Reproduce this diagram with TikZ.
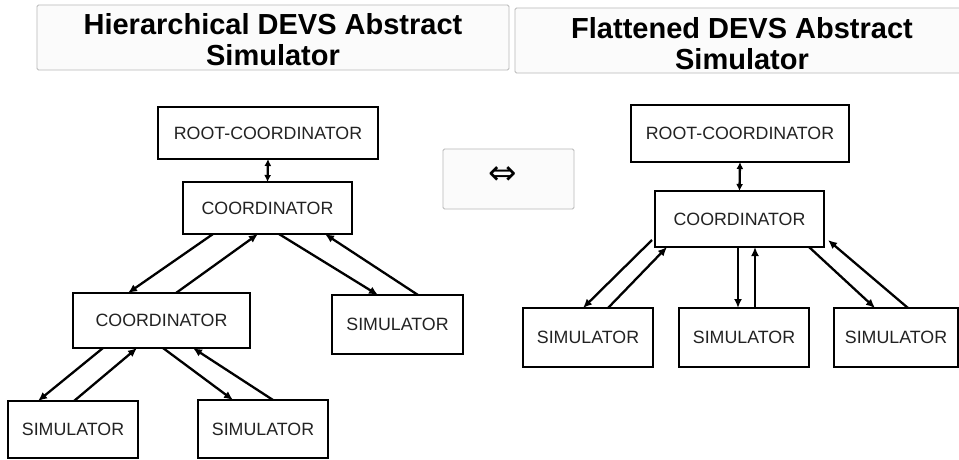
\documentclass[tikz,border=0pt]{standalone}
\usepackage{fontspec}
\setmainfont{Liberation Sans}
\newfontfamily\symfont{DejaVu Sans}
\usetikzlibrary{arrows.meta}
\definecolor{txt}{HTML}{222222}
\begin{document}
\begin{tikzpicture}[x=1pt,y=-1pt,
  box/.style={draw=black, line width=2.8pt, fill=white, text=txt,
    font=\fontsize{17.8}{20}\selectfont, inner sep=0pt, outer sep=0pt},
  titlebox/.style={draw=black!28, line width=0.9pt, fill=black!1.5, rounded corners=1.5pt},
  titletext/.style={font=\bfseries\fontsize{29}{31}\selectfont, align=center, text=black, inner sep=0pt},
  conn/.style={line width=2.3pt, -{Latex[length=9pt,width=8pt]}},
  dconn/.style={line width=2.3pt, {Latex[length=7pt,width=7pt]}-{Latex[length=7pt,width=7pt]}}
]
\useasboundingbox (0,0) rectangle (959,459);
\fill[white] (0,0) rectangle (959,459);

% title boxes
\node[titlebox, minimum width=472pt, minimum height=65pt, inner sep=0pt] (tl) at (273,37.5) {};
\node[titletext] (tlt) at (273,40) {Hierarchical DEVS Abstract\\Simulator};
\node[titlebox, minimum width=460pt, minimum height=65pt, inner sep=0pt] (tr) at (745,40.5) {};
\node[titletext] (trt) at (742,43.5) {Flattened DEVS Abstract\\Simulator};

% middle equivalence box
\node[titlebox, minimum width=131pt, minimum height=60pt, inner sep=0pt] (mid) at (508.5,179) {};
\node[inner sep=0pt, font=\symfont\fontsize{34}{34}\selectfont] (eq) at (503,176) {⇔};

% left hierarchy
\node[box, minimum width=220pt, minimum height=52pt] (root1) at (268,133) {ROOT-COORDINATOR};
\node[box, minimum width=169pt, minimum height=52pt] (coord1) at (267.5,208) {COORDINATOR};
\node[box, minimum width=177pt, minimum height=55pt] (coord2) at (161.5,320.5) {COORDINATOR};
\node[box, minimum width=131pt, minimum height=59pt] (simR) at (397.5,324.5) {SIMULATOR};
\node[box, minimum width=130pt, minimum height=57pt] (simBL) at (73,429.5) {SIMULATOR};
\node[box, minimum width=130pt, minimum height=58pt] (simBM) at (263,429) {SIMULATOR};

\draw[dconn] (root1.south) -- (coord1.north);
\draw[conn] ([xshift=-54.5pt]coord1.south) -- ([xshift=-33.5pt]coord2.north);
\draw[conn] ([xshift=14.5pt]coord2.north) -- ([xshift=-9.5pt]coord1.south);
\draw[conn] ([xshift=11.5pt]coord1.south) -- ([xshift=-19.5pt]simR.north);
\draw[conn] ([xshift=20.5pt]simR.north) -- ([xshift=57.5pt]coord1.south);
\draw[conn] ([xshift=-58.5pt]coord2.south) -- ([xshift=-35pt]simBL.north);
\draw[conn] ([xshift=1pt]simBL.north) -- ([xshift=-24.5pt]coord2.south);
\draw[conn] ([xshift=1.5pt]coord2.south) -- ([xshift=-30pt]simBM.north);
\draw[conn] ([xshift=10pt]simBM.north) -- ([xshift=31.5pt]coord2.south);

% right flattened
\node[box, minimum width=218pt, minimum height=57pt] (root2) at (740,133.5) {ROOT-COORDINATOR};
\node[box, minimum width=169pt, minimum height=56pt] (coord3) at (739.5,219) {COORDINATOR};
\node[box, minimum width=130pt, minimum height=59pt] (sim1) at (588,337.5) {SIMULATOR};
\node[box, minimum width=130pt, minimum height=59pt] (sim2) at (744,337.5) {SIMULATOR};
\node[box, minimum width=124pt, minimum height=59pt] (sim3) at (896,337.5) {SIMULATOR};

\draw[dconn] (root2.south) -- (coord3.north);
\draw[conn] ([xshift=-3pt,yshift=7pt]coord3.south west) -- ([xshift=-5pt]sim1.north);
\draw[conn] ([xshift=20pt]sim1.north) -- ([xshift=12pt]coord3.south west);
\draw[conn] ([xshift=-1.5pt]coord3.south) -- ([xshift=-6pt]sim2.north);
\draw[conn] ([xshift=11pt]sim2.north) -- ([xshift=15.5pt]coord3.south);
\draw[conn] ([xshift=-15pt]coord3.south east) -- ([xshift=-21pt]sim3.north);
\draw[conn] ([xshift=12pt]sim3.north) -- ([xshift=4pt,yshift=7pt]coord3.south east);
\end{tikzpicture}
\end{document}
